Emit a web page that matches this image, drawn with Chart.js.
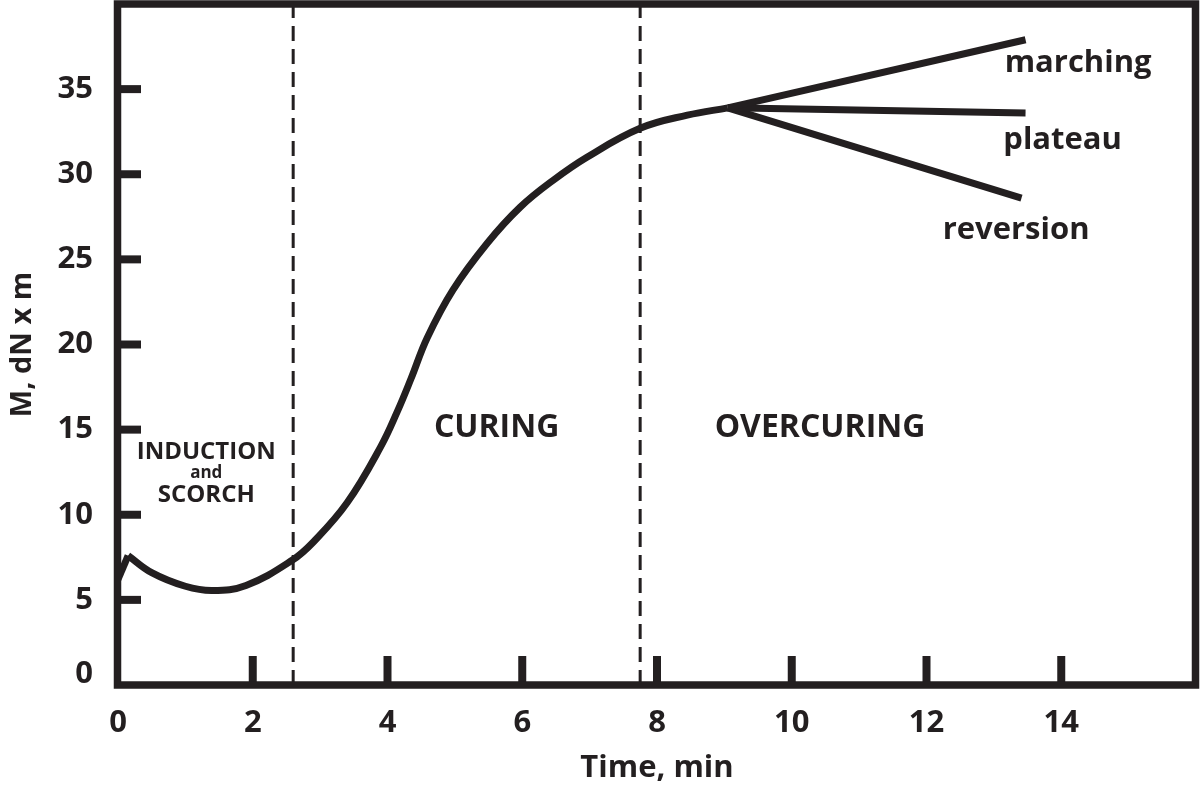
<!DOCTYPE html>
<html>
<head>
<meta charset="utf-8">
<script src="https://cdn.jsdelivr.net/npm/chart.js@4.4.1/dist/chart.umd.min.js"></script>
<style>
  html, body { margin: 0; padding: 0; background: #fff; }
  #wrap { width: 1200px; height: 794px; }
</style>
</head>
<body>
<div id="wrap"><canvas id="rheo"></canvas></div>
<script>
const ink = '#231f20';
const fontName = '"Open Sans", "DejaVu Sans", sans-serif';

// cure curve: time (min) vs torque M (dN x m)
const curveTime   = [0.15, 0.5, 1.0, 1.4, 1.9, 2.59, 2.9, 3.4, 3.9, 4.15, 4.35, 4.59, 4.97, 5.48, 5.97, 6.46, 6.96, 7.75, 8.45, 9.05];
const curveTorque = [7.6, 6.6, 5.8, 5.55, 5.85, 7.34, 8.4, 10.7, 14.0, 16.1, 18.0, 20.4, 23.2, 25.95, 28.07, 29.65, 31.0, 32.7, 33.47, 33.9];

// the little kick at the very start
const spikeTime   = [0, 0.15];
const spikeTorque = [6.2, 7.6];

// the three endings after the optimum
const marchingTime     = [9.05, 13.47];
const marchingTorque   = [33.9, 37.9];
const plateauTime      = [9.05, 13.47];
const plateauTorque    = [33.9, 33.6];
const reversionTime    = [9.05, 13.41];
const reversionTorque  = [33.9, 28.6];

// phase boundaries (dashed)
const phaseBounds = [2.6, 7.75];

const xMax = 16, yMax = 40;

const notes = [
    { text: 'INDUCTION', x: 1.31, y: 13.7, size: 24 },
    { text: 'and', x: 1.31, y: 12.45, size: 17 },
    { text: 'SCORCH', x: 1.31, y: 11.16, size: 24 },
    { text: 'CURING', x: 5.62, y: 15.1, size: 32 },
    { text: 'OVERCURING', x: 10.42, y: 15.1, size: 32 },
    { text: 'marching', x: 14.25, y: 36.5, size: 31 },
    { text: 'plateau', x: 14.02, y: 32.0, size: 31 },
    { text: 'reversion', x: 13.33, y: 26.7, size: 31 }
];

const pts = (xs, ys) => xs.map((x, i) => ({ x: x, y: ys[i] }));

const solid = (data, tension) => ({
    data: data,
    borderColor: ink,
    borderWidth: 7,
    pointRadius: 0,
    fill: false,
    tension: tension
});

const datasets = [
    solid(pts(spikeTime, spikeTorque), 0),
    solid(pts(curveTime, curveTorque), 0.4),
    solid(pts(marchingTime, marchingTorque), 0),
    solid(pts(plateauTime, plateauTorque), 0),
    solid(pts(reversionTime, reversionTorque), 0)
];
for (const t of phaseBounds) {
    datasets.push({
        data: [{ x: t, y: 0 }, { x: t, y: yMax }],
        borderColor: ink,
        borderWidth: 3,
        borderDash: [15, 8],
        pointRadius: 0,
        fill: false
    });
}

const decor = {
    id: 'decor',
    afterDraw(chart) {
        const { ctx, chartArea: a, scales: { x, y } } = chart;
        ctx.save();
        ctx.strokeStyle = ink;
        ctx.fillStyle = ink;
        ctx.lineCap = 'butt';

        // inward tick marks
        ctx.lineWidth = 8;
        y.ticks.forEach(t => {
            if (t.value <= 0 || t.value >= yMax) return;
            const py = y.getPixelForValue(t.value);
            ctx.beginPath(); ctx.moveTo(a.left, py); ctx.lineTo(a.left + 23, py); ctx.stroke();
        });
        x.ticks.forEach(t => {
            if (t.value <= 0 || t.value >= xMax) return;
            const px = x.getPixelForValue(t.value);
            ctx.beginPath(); ctx.moveTo(px, a.bottom); ctx.lineTo(px, a.bottom - 29); ctx.stroke();
        });

        // frame
        ctx.lineWidth = 7.5;
        ctx.strokeRect(a.left - 0.5, a.top, a.right - a.left, a.bottom - a.top);

        // the "0" on the y axis sits a bit above the corner
        ctx.font = 'bold 31px ' + fontName;
        ctx.textAlign = 'right';
        ctx.textBaseline = 'middle';
        ctx.fillText('0', a.left - 25, y.getPixelForValue(0) - 11);

        // phase / ending labels
        ctx.textAlign = 'center';
        for (const n of notes) {
            ctx.font = 'bold ' + n.size + 'px ' + fontName;
            ctx.fillText(n.text, x.getPixelForValue(n.x), y.getPixelForValue(n.y));
        }
        ctx.restore();
    }
};

new Chart(document.getElementById('rheo'), {
    type: 'line',
    data: { datasets: datasets },
    plugins: [decor],
    options: {
        responsive: true,
        maintainAspectRatio: false,
        animation: false,
        layout: { padding: { top: 4, right: 4, left: 0, bottom: 0 } },
        plugins: { legend: { display: false }, tooltip: { enabled: false } },
        scales: {
            x: {
                type: 'linear',
                min: 0,
                max: xMax,
                afterFit: (s) => { s.height = 109; s.paddingLeft = 0; s.paddingRight = 0; },
                grid: { display: false, drawTicks: false },
                border: { display: false },
                ticks: {
                    stepSize: 2,
                    padding: 20,
                    color: ink,
                    font: { family: fontName, size: 31, weight: 'bold' },
                    callback: (v) => (v >= xMax ? '' : v)
                },
                title: {
                    display: true,
                    text: 'Time, min',
                    color: ink,
                    font: { family: fontName, size: 31, weight: 'bold' },
                    padding: { top: 0, bottom: 7 }
                }
            },
            y: {
                min: 0,
                max: yMax,
                afterFit: (s) => { s.width = 118; s.paddingTop = 0; s.paddingBottom = 0; },
                grid: { display: false, drawTicks: false },
                border: { display: false },
                ticks: {
                    stepSize: 5,
                    padding: 25,
                    color: ink,
                    font: { family: fontName, size: 31, weight: 'bold' },
                    callback: (v) => (v <= 0 || v >= yMax ? '' : v)
                },
                title: {
                    display: true,
                    text: 'M, dN x m',
                    color: ink,
                    font: { family: fontName, size: 29, weight: 'bold' },
                    padding: { top: 5, bottom: 0 }
                }
            }
        }
    }
});
</script>
</body>
</html>
